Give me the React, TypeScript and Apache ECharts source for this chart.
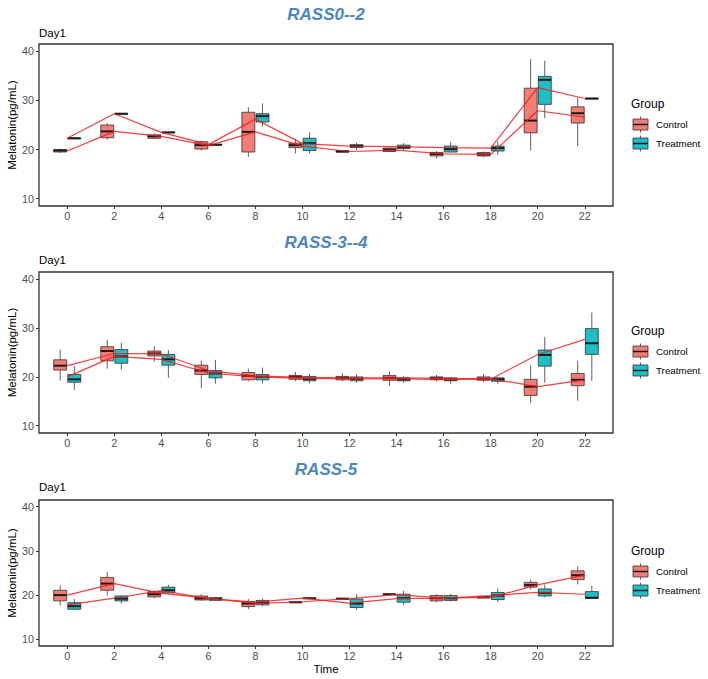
import React, { useEffect, useRef } from 'react';
import * as echarts from 'echarts';

// Sampling hours (x axis) and tick labels
const TIMES = [0, 2, 4, 6, 8, 10, 12, 14, 16, 18, 20, 22];
const X_TICKS = [0, 2, 4, 6, 8, 10, 12, 14, 16, 18, 20, 22];
const Y_TICKS = [10, 20, 30, 40];
const PANEL_TITLES = ['RASS0--2', 'RASS-3--4', 'RASS-5'];
const GROUPS = ['Control', 'Treatment'];

// Five-number summaries per hour: [min, q1, median, q3, max]
const rass02Control = [
  [19.3, 19.5, 19.8, 20.0, 20.2],
  [22.0, 22.4, 23.7, 25.0, 25.4],
  [22.1, 22.3, 22.7, 23.0, 23.3],
  [19.8, 20.1, 20.9, 21.6, 21.8],
  [18.5, 19.5, 23.6, 27.6, 28.6],
  [19.2, 20.4, 20.9, 21.3, 22.2],
  [19.4, 19.5, 19.6, 19.8, 19.9],
  [19.5, 19.6, 20.0, 20.3, 20.4],
  [18.2, 18.7, 19.1, 19.4, 19.7],
  [18.4, 18.7, 19.0, 19.4, 19.6],
  [19.8, 23.4, 25.9, 32.5, 38.4],
  [20.7, 25.4, 27.4, 28.7, 30.6],
];
const rass02Treatment = [
  [22.3, 22.3, 22.3, 22.3, 22.3],
  [27.3, 27.3, 27.3, 27.3, 27.3],
  [23.5, 23.5, 23.5, 23.5, 23.5],
  [21.0, 21.0, 21.0, 21.0, 21.0],
  [24.7, 25.6, 26.8, 27.3, 29.4],
  [19.2, 19.8, 21.3, 22.3, 23.5],
  [19.9, 20.4, 20.7, 21.0, 21.4],
  [19.8, 20.2, 20.5, 20.9, 21.3],
  [19.4, 19.5, 20.1, 20.7, 21.6],
  [18.9, 19.7, 20.3, 20.7, 21.6],
  [26.4, 29.2, 34.2, 34.9, 38.1],
  [30.4, 30.4, 30.4, 30.4, 30.4],
];
const rass02ControlMean = [19.7, 23.7, 22.7, 20.8, 23.6, 20.7, 19.6, 19.9, 19.1, 19.0, 27.9, 26.6];
const rass02TreatmentMean = [22.3, 27.3, 23.5, 21.0, 26.2, 21.2, 20.7, 20.6, 20.4, 20.3, 32.6, 30.4];

const rass34Control = [
  [19.2, 21.4, 22.3, 23.5, 25.6],
  [21.7, 23.3, 25.3, 26.2, 27.6],
  [23.1, 24.3, 24.8, 25.3, 26.3],
  [17.7, 20.5, 21.3, 22.4, 23.3],
  [19.1, 19.4, 20.2, 20.9, 21.7],
  [19.1, 19.5, 20.0, 20.3, 21.0],
  [19.1, 19.4, 19.8, 20.1, 20.7],
  [18.2, 19.3, 19.8, 20.3, 21.1],
  [19.1, 19.4, 19.7, 20.0, 20.4],
  [18.9, 19.3, 19.6, 20.0, 20.6],
  [14.7, 16.2, 18.0, 19.5, 22.4],
  [15.1, 18.2, 19.4, 20.7, 23.3],
];
const rass34Treatment = [
  [17.3, 18.9, 19.5, 20.5, 22.2],
  [21.5, 22.8, 24.2, 25.6, 27.0],
  [19.8, 22.4, 23.6, 24.6, 25.5],
  [18.6, 19.8, 20.7, 21.3, 23.5],
  [18.7, 19.4, 20.0, 20.5, 21.9],
  [18.7, 19.2, 19.6, 20.1, 20.6],
  [18.8, 19.2, 19.6, 20.0, 20.5],
  [18.8, 19.2, 19.5, 19.8, 20.2],
  [18.6, 19.2, 19.5, 19.8, 20.0],
  [18.6, 19.1, 19.5, 19.8, 20.0],
  [18.8, 22.2, 24.5, 25.5, 28.2],
  [19.2, 24.6, 26.9, 29.9, 33.2],
];
const rass34ControlMean = [22.3, 24.8, 24.7, 21.3, 20.2, 19.9, 19.8, 19.8, 19.7, 19.6, 18.0, 19.4];
const rass34TreatmentMean = [20.0, 24.2, 23.6, 20.8, 20.0, 19.7, 19.6, 19.6, 19.5, 19.5, 24.6, 27.7];

const rass5Control = [
  [17.7, 18.7, 20.0, 21.1, 22.2],
  [19.9, 21.1, 22.6, 24.0, 25.2],
  [19.3, 19.6, 20.2, 20.8, 21.1],
  [18.7, 18.9, 19.3, 19.8, 20.2],
  [16.8, 17.4, 18.1, 18.5, 19.1],
  [18.4, 18.4, 18.4, 18.4, 18.4],
  [19.2, 19.2, 19.2, 19.2, 19.2],
  [20.2, 20.2, 20.2, 20.2, 20.2],
  [18.4, 18.7, 19.3, 19.9, 20.2],
  [19.3, 19.4, 19.5, 19.6, 19.7],
  [21.3, 21.8, 22.3, 22.9, 23.5],
  [22.4, 23.5, 24.5, 25.5, 26.5],
];
const rass5Treatment = [
  [16.7, 16.8, 17.5, 18.3, 19.1],
  [18.1, 18.7, 19.2, 19.8, 19.9],
  [20.4, 20.5, 21.1, 21.8, 22.3],
  [18.7, 18.8, 19.2, 19.4, 19.6],
  [17.5, 17.8, 18.3, 18.8, 19.2],
  [19.3, 19.3, 19.3, 19.3, 19.3],
  [16.7, 17.2, 18.1, 19.1, 20.2],
  [17.8, 18.4, 19.3, 20.2, 21.0],
  [18.6, 18.8, 19.3, 19.9, 20.3],
  [18.5, 19.0, 19.9, 20.6, 21.5],
  [19.5, 19.8, 20.5, 21.4, 22.4],
  [19.3, 19.3, 19.4, 20.8, 22.1],
];
const rass5ControlMean = [20.0, 22.6, 20.4, 19.3, 18.1, 18.5, 19.2, 20.1, 19.3, 19.5, 22.3, 24.5];
const rass5TreatmentMean = [17.8, 19.3, 21.0, 19.2, 18.4, 19.3, 18.2, 19.2, 19.3, 19.9, 20.6, 20.2];

const PANEL_DATA = [
  { control: rass02Control, treatment: rass02Treatment, controlMean: rass02ControlMean, treatmentMean: rass02TreatmentMean },
  { control: rass34Control, treatment: rass34Treatment, controlMean: rass34ControlMean, treatmentMean: rass34TreatmentMean },
  { control: rass5Control, treatment: rass5Treatment, controlMean: rass5ControlMean, treatmentMean: rass5TreatmentMean },
];

// Layout of the three stacked panels (pixels)
const PLOT_LEFT = 39;
const PLOT_RIGHT = 613;
const LAYOUT = [
  { top: 44, height: 162, titleY: 14, dayY: 33, legendY: 104 },
  { top: 272, height: 161, titleY: 242, dayY: 260, legendY: 331 },
  { top: 500, height: 146, titleY: 469, dayY: 487, legendY: 551 },
];

const FILL = ['#F47C74', '#1EBFC4'];
const DODGE = [-0.3, 0.3];
const BOX_WIDTH = 0.55;
const FONT = "'Liberation Sans', Arial, sans-serif";

function boxRenderer(offset: number, fill: string) {
  return (params: any, api: any) => {
    const xc = api.value(0) + offset;
    const pMin = api.coord([xc, api.value(1)]);
    const pQ1 = api.coord([xc, api.value(2)]);
    const pMed = api.coord([xc, api.value(3)]);
    const pQ3 = api.coord([xc, api.value(4)]);
    const pMax = api.coord([xc, api.value(5)]);
    const w = api.size([BOX_WIDTH, 0])[0];
    const whisker = { stroke: '#4D4D4D', lineWidth: 0.9 };
    return {
      type: 'group',
      children: [
        { type: 'line', shape: { x1: pMax[0], y1: pMax[1], x2: pQ3[0], y2: pQ3[1] }, style: whisker },
        { type: 'line', shape: { x1: pQ1[0], y1: pQ1[1], x2: pMin[0], y2: pMin[1] }, style: whisker },
        {
          type: 'rect',
          shape: { x: pQ3[0] - w / 2, y: pQ3[1], width: w, height: Math.max(pQ1[1] - pQ3[1], 0.5) },
          style: { fill, stroke: '#333333', lineWidth: 0.8 },
        },
        {
          type: 'line',
          shape: { x1: pMed[0] - w / 2, y1: pMed[1], x2: pMed[0] + w / 2, y2: pMed[1] },
          style: { stroke: '#1A1A1A', lineWidth: 2 },
        },
      ],
    };
  };
}

function legendElements(y: number) {
  const els: any[] = [
    { type: 'text', x: 631, y, style: { text: 'Group', fontSize: 12, fill: '#000', fontFamily: FONT, textVerticalAlign: 'middle' } },
  ];
  GROUPS.forEach((g, i) => {
    const cy = y + 20.5 + i * 19;
    els.push(
      { type: 'line', shape: { x1: 640.5, y1: cy - 8, x2: 640.5, y2: cy + 8 }, style: { stroke: '#4D4D4D', lineWidth: 0.9 } },
      { type: 'rect', shape: { x: 633, y: cy - 5.5, width: 15, height: 11 }, style: { fill: FILL[i], stroke: '#333333', lineWidth: 0.8 } },
      { type: 'line', shape: { x1: 633, y1: cy, x2: 648, y2: cy }, style: { stroke: '#1A1A1A', lineWidth: 1.5 } },
      { type: 'text', x: 656, y: cy, style: { text: g, fontSize: 9.8, fill: '#000', fontFamily: FONT, textVerticalAlign: 'middle' } },
    );
  });
  return els;
}

export default function App() {
  const ref = useRef<HTMLDivElement>(null);

  useEffect(() => {
    if (!ref.current) return;
    const chart = echarts.init(ref.current, undefined, { renderer: 'svg' });

    const grids = LAYOUT.map((l) => ({
      left: PLOT_LEFT,
      width: PLOT_RIGHT - PLOT_LEFT,
      top: l.top,
      height: l.height,
      show: true,
      borderColor: '#333333',
      borderWidth: 1.3,
      backgroundColor: 'transparent',
      containLabel: false,
    }));

    const xAxes = LAYOUT.map((_, i) => ({
      type: 'value',
      gridIndex: i,
      min: -1.2,
      max: 23.2,
      axisLine: { show: false, onZero: false },
      splitLine: { show: false },
      axisTick: { show: true, length: 3, customValues: X_TICKS, lineStyle: { color: '#333333', width: 1 } },
      axisLabel: { customValues: X_TICKS, color: '#4D4D4D', fontSize: 10.8, margin: 4, fontFamily: FONT },
    }));

    const yAxes = LAYOUT.map((_, i) => ({
      type: 'value',
      gridIndex: i,
      min: 8.5,
      max: 41.5,
      axisLine: { show: false, onZero: false },
      splitLine: { show: false },
      axisTick: { show: true, length: 3, customValues: Y_TICKS, lineStyle: { color: '#333333', width: 1 } },
      axisLabel: { customValues: Y_TICKS, color: '#4D4D4D', fontSize: 10.8, margin: 5, fontFamily: FONT },
    }));

    const series: any[] = [];
    PANEL_DATA.forEach((p, i) => {
      [p.control, p.treatment].forEach((boxes, g) => {
        series.push({
          type: 'custom',
          name: GROUPS[g],
          xAxisIndex: i,
          yAxisIndex: i,
          renderItem: boxRenderer(DODGE[g], FILL[g]),
          encode: { x: 0, y: [1, 2, 3, 4, 5] },
          data: TIMES.map((t, k) => [t, ...boxes[k]]),
          silent: true,
          z: 2,
        });
      });
      [p.controlMean, p.treatmentMean].forEach((means, g) => {
        series.push({
          type: 'line',
          name: GROUPS[g] + ' mean',
          xAxisIndex: i,
          yAxisIndex: i,
          data: TIMES.map((t, k) => [t, means[k]]),
          showSymbol: false,
          symbol: 'none',
          lineStyle: { color: 'rgba(238, 32, 32, 0.85)', width: 1.2 },
          silent: true,
          z: 5,
        });
      });
    });

    const graphics: any[] = [];
    LAYOUT.forEach((l, i) => {
      graphics.push(
        {
          type: 'text', x: (PLOT_LEFT + PLOT_RIGHT) / 2, y: l.titleY,
          style: { text: PANEL_TITLES[i], fontSize: 17, fontWeight: 'bold', fontStyle: 'italic', fill: '#4A86BF', fontFamily: FONT, textAlign: 'center', textVerticalAlign: 'middle' },
        },
        {
          type: 'text', x: PLOT_LEFT, y: l.dayY,
          style: { text: 'Day1', fontSize: 11.5, fill: '#000', fontFamily: FONT, textVerticalAlign: 'middle' },
        },
        {
          type: 'text', x: 12, y: l.top + l.height / 2, rotation: Math.PI / 2,
          style: { text: 'Melatonin(pg/mL)', fontSize: 11.5, fill: '#000', fontFamily: FONT, textAlign: 'center', textVerticalAlign: 'middle' },
        },
        ...legendElements(l.legendY),
      );
    });
    graphics.push({
      type: 'text', x: (PLOT_LEFT + PLOT_RIGHT) / 2, y: 669,
      style: { text: 'Time', fontSize: 11.5, fill: '#000', fontFamily: FONT, textAlign: 'center', textVerticalAlign: 'middle' },
    });

    chart.setOption({
      animation: false,
      backgroundColor: '#ffffff',
      textStyle: { fontFamily: FONT },
      grid: grids,
      xAxis: xAxes,
      yAxis: yAxes,
      series,
      graphic: { elements: graphics },
    });

    return () => chart.dispose();
  }, []);

  return <div ref={ref} style={{ position: 'absolute', left: 0, top: 0, width: 708, height: 679 }} />;
}
